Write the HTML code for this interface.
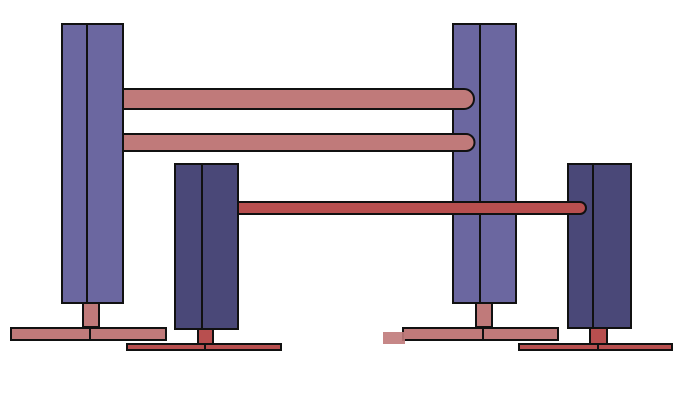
<!DOCTYPE html>
<html><head><style>html,body{margin:0;padding:0;background:#fff;width:680px;height:420px;overflow:hidden}</style></head>
<body>
<svg width="680" height="420" xmlns="http://www.w3.org/2000/svg">
<g stroke="#111" stroke-width="2">
<!-- tall columns -->
<rect x="62" y="24" width="61" height="279" fill="#6b67a0"/>
<line x1="87" y1="24" x2="87" y2="303"/>
<rect x="453" y="24" width="63" height="279" fill="#6b67a0"/>
<line x1="480" y1="24" x2="480" y2="303"/>
<!-- small columns -->
<rect x="175" y="164" width="63" height="165" fill="#4a4878"/>
<line x1="202" y1="164" x2="202" y2="329"/>
<rect x="568" y="164" width="63" height="164" fill="#4a4878"/>
<line x1="593" y1="164" x2="593" y2="328"/>
<!-- upper bars -->
<path d="M124 89 H464 a10 10 0 0 1 0 20 H124" fill="#c07a7a"/>
<path d="M124 134 H466 a8.5 8.5 0 0 1 0 17 H124" fill="#c07a7a"/>
<!-- thin red bar -->
<path d="M239 202 H580 a6 6 0 0 1 0 12 H239" fill="#b84f4f"/>
<!-- stems & bases (tall) -->
<rect x="83" y="303" width="16" height="24" fill="#c07a7a"/>
<rect x="11" y="328" width="155" height="12" fill="#c07a7a"/>
<line x1="90" y1="328" x2="90" y2="341"/>
<rect x="476" y="303" width="16" height="24" fill="#c07a7a"/>
<rect x="403" y="328" width="155" height="12" fill="#c07a7a"/>
<line x1="483" y1="328" x2="483" y2="341"/>
<!-- stems & bases (small) -->
<rect x="198" y="329" width="15" height="15" fill="#b84f4f"/>
<rect x="127" y="344" width="154" height="6" fill="#b84f4f"/>
<line x1="205" y1="344" x2="205" y2="351"/>
<rect x="590" y="328" width="17" height="16" fill="#b84f4f"/>
<rect x="519" y="344" width="153" height="6" fill="#b84f4f"/>
<line x1="598" y1="344" x2="598" y2="351"/>
</g>
<rect x="383" y="332" width="22" height="12" fill="#c07a7a" opacity="0.9"/>
</svg>
</body></html>
